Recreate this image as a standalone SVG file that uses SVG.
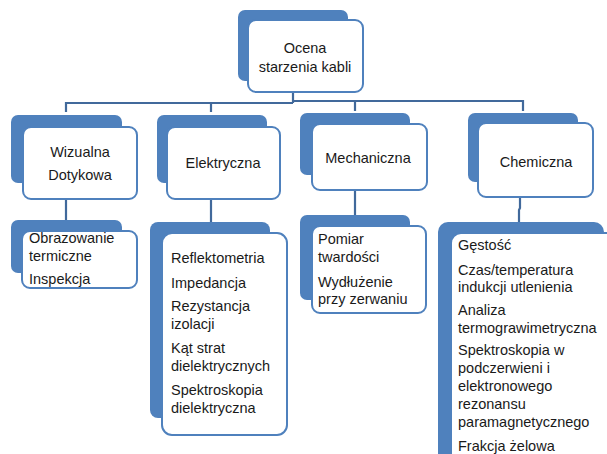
<svg xmlns="http://www.w3.org/2000/svg" width="607" height="454" viewBox="0 0 607 454">
<style>
.back{fill:#4f81bd}
.front{fill:#fff;stroke:#4f81bd;stroke-width:2}
.conn{fill:none;stroke:#41699b;stroke-width:2.2}
text{font-family:"Liberation Sans",Arial,sans-serif;font-size:14.5px;fill:#1a1a1a}
.c{text-anchor:middle}
</style>
<rect width="607" height="454" fill="#fff"/>
<g id="connectors">
<path class="conn" d="M293 92V103M66 112V103H293M211 103V112M293 101H523V111M355 101V111"/>
<path class="conn" d="M66 199V220M211 199V222M355 190V215M520 197V208L519 210V222"/>
</g>
<g id="root">
<rect class="back" x="238" y="10" width="110" height="71" rx="7"/>
<rect class="front" x="248" y="20" width="115" height="72" rx="8"/>
<text class="c" x="305" y="53">Ocena</text>
<text class="c" x="305" y="72">starzenia kabli</text>
</g>
<g id="wizualna">
<rect class="back" x="11" y="115" width="111" height="68" rx="7"/>
<rect class="front" x="23" y="127" width="114" height="72" rx="8"/>
<text class="c" x="80" y="157">Wizualna</text>
<text class="c" x="80" y="180">Dotykowa</text>
</g>
<g id="elektryczna">
<rect class="back" x="157" y="115" width="110" height="68" rx="7"/>
<rect class="front" x="167" y="127" width="113" height="72" rx="8"/>
<text class="c" x="223" y="168">Elektryczna</text>
</g>
<g id="mechaniczna">
<rect class="back" x="300" y="113" width="110" height="62" rx="7"/>
<rect class="front" x="312" y="124" width="115" height="66" rx="8"/>
<text class="c" x="368" y="163">Mechaniczna</text>
</g>
<g id="chemiczna">
<rect class="back" x="468" y="113" width="110" height="69" rx="7"/>
<rect class="front" x="478" y="123" width="115" height="74" rx="8"/>
<text class="c" x="536" y="167">Chemiczna</text>
</g>
<g id="wizualna-metody">
<rect class="back" x="11" y="220" width="111" height="53" rx="7"/>
<rect class="front" x="22" y="231" width="115" height="57" rx="8"/>
<text x="29" y="243">Obrazowanie</text>
<text x="29" y="261">termiczne</text>
<text x="29" y="284">Inspekcja</text>
</g>
<g id="elektryczna-metody">
<rect class="back" x="150" y="222" width="120" height="196" rx="8"/>
<rect class="front" x="162" y="233" width="125" height="202" rx="10"/>
<text x="171" y="263">Reflektometria</text>
<text x="171" y="288">Impedancja</text>
<text x="171" y="311">Rezystancja</text>
<text x="171" y="329">izolacji</text>
<text x="171" y="353">Kąt strat</text>
<text x="171" y="371">dielektrycznych</text>
<text x="171" y="395">Spektroskopia</text>
<text x="171" y="413">dielektryczna</text>
</g>
<g id="mechaniczna-metody">
<rect class="back" x="300" y="215" width="110" height="85" rx="7"/>
<rect class="front" x="312" y="226" width="114" height="87" rx="8"/>
<text x="318" y="244">Pomiar</text>
<text x="318" y="262">twardości</text>
<text x="318" y="287">Wydłużenie</text>
<text x="318" y="304">przy zerwaniu</text>
</g>
<g id="chemiczna-metody">
<rect class="back" x="438" y="222" width="166" height="260" rx="10"/>
<rect class="front" x="451" y="233" width="170" height="260" rx="10"/>
<text x="458" y="250">Gęstość</text>
<text x="458" y="275">Czas/temperatura</text>
<text x="458" y="292">indukcji utlenienia</text>
<text x="458" y="315">Analiza</text>
<text x="458" y="333">termograwimetryczna</text>
<text x="458" y="355">Spektroskopia w</text>
<text x="458" y="373">podczerwieni i</text>
<text x="458" y="391">elektronowego</text>
<text x="458" y="409">rezonansu</text>
<text x="458" y="427">paramagnetycznego</text>
<text x="458" y="451">Frakcja żelowa</text>
</g>
</svg>
